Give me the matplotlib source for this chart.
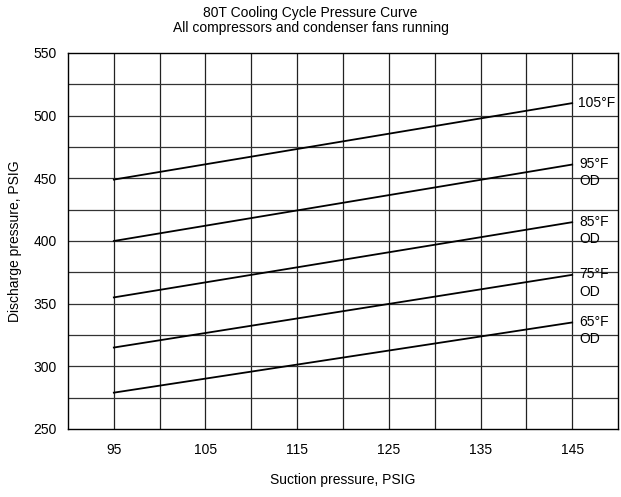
import numpy as np
import matplotlib.pyplot as plt

plt.rcParams['font.family'] = ['Liberation Sans', 'DejaVu Sans']

# Data
suction = [95, 145]
curves = {
    "105°F": [449, 510],
    "95°F\nOD": [400, 461],
    "85°F\nOD": [355, 415],
    "75°F\nOD": [315, 373],
    "65°F\nOD": [279, 335],
}
x_ticks = [95, 105, 115, 125, 135, 145]
y_ticks = [250, 300, 350, 400, 450, 500, 550]

fig = plt.figure(figsize=(6.21, 4.97), dpi=100)
ax = fig.add_axes([68 / 621, 1 - 429 / 497, 550 / 621, 376 / 497])

ax.set_xlim(90, 150)
ax.set_ylim(250, 550)

# grid every 5 psig across, every 25 psig up
for gx in np.arange(95, 150, 5):
    ax.axvline(gx, color='#222222', lw=0.9, zorder=1)
for gy in np.arange(275, 550, 25):
    ax.axhline(gy, color='#333333', lw=0.9, zorder=1)

for label, vals in curves.items():
    ax.plot(suction, vals, color='black', lw=1.3, zorder=3)
    if "\n" in label:
        ax.text(145.8, vals[1] + 6, label, fontsize=10, va='top', ha='left',
                linespacing=1.3, zorder=4)
    else:
        ax.text(145.6, vals[1], label, fontsize=10, va='center', ha='left', zorder=4)

ax.set_xticks(x_ticks)
ax.set_yticks(y_ticks)
ax.tick_params(length=0, labelsize=10, pad=8)
ax.tick_params(axis='x', pad=10)
for s in ax.spines.values():
    s.set_color('black')
    s.set_linewidth(1)

fig.text(0.5, 1 - 13 / 497, "80T Cooling Cycle Pressure Curve", ha='center', va='center', fontsize=10)
fig.text(0.5, 1 - 28 / 497, "All compressors and condenser fans running", ha='center', va='center', fontsize=10)
fig.text(343 / 621, 1 - 480 / 497, "Suction pressure, PSIG", ha='center', va='center', fontsize=10)
fig.text(15 / 621, 1 - 241 / 497, "Discharge pressure, PSIG", ha='center', va='center', rotation=90, fontsize=10)

fig.savefig("out.png", dpi=100)
